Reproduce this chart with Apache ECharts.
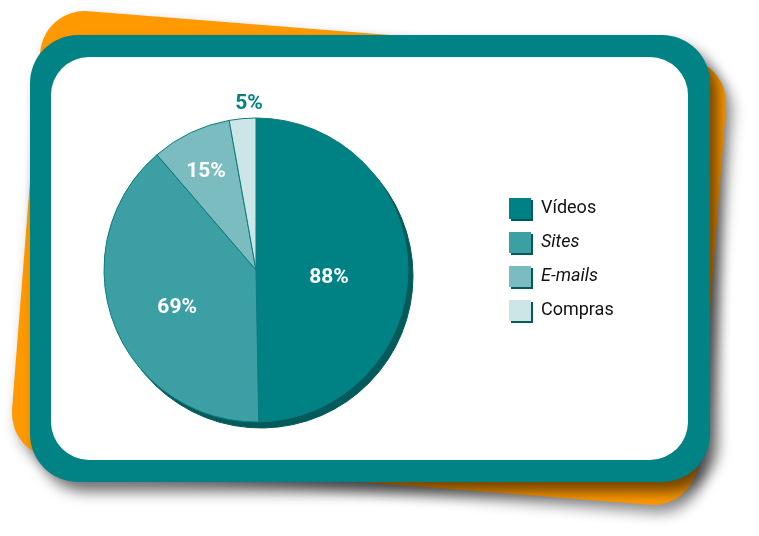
<!DOCTYPE html>
<html>
<head>
<meta charset="utf-8">
<script src="https://cdn.jsdelivr.net/npm/echarts@6/dist/echarts.min.js"></script>
<style>
html,body{margin:0;padding:0;background:#fff;}
#chart{width:759px;height:536px;}
</style>
</head>
<body>
<div id="chart"></div>
<script>
// ---- data ----
const categories = ['Vídeos', 'Sites', 'E-mails', 'Compras'];
const values = [88, 69, 15, 5];
const labelTexts = ['88%', '69%', '15%', '5%'];

// ---- styles ----
const sliceColors = ['#008285', '#3c9fa3', '#7bbcc1', '#cce5e7'];
const italicNames = ['Sites', 'E-mails'];
const labelOffsets = [[-6, 8], [-5, 10], [-16, -27], [0, -88]];
const labelColors = ['#ffffff', '#ffffff', '#ffffff', '#008285'];

const chart = echarts.init(document.getElementById('chart'), null, {renderer: 'canvas'});

const deg = Math.PI / 180;

const mainData = categories.map((c, i) => ({
  name: c,
  value: values[i],
  itemStyle: {color: sliceColors[i]},
  label: {
    formatter: labelTexts[i],
    offset: labelOffsets[i],
    color: labelColors[i]
  }
}));

const shadowData = categories.map((c, i) => ({
  name: c,
  value: values[i],
  itemStyle: {color: '#035a5b'}
}));

chart.setOption({
  animation: false,
  graphic: [
    {
      type: 'rect',
      x: 369, y: 258,
      rotation: -4.5 * deg,
      shape: {x: -344, y: -224, width: 688, height: 448, r: 45},
      style: {fill: '#ff9900', shadowBlur: 14, shadowColor: 'rgba(0,0,0,0.45)', shadowOffsetX: 6, shadowOffsetY: 8},
      z: -10, silent: true
    },
    {
      type: 'rect',
      shape: {x: 30, y: 35, width: 680, height: 447, r: 48},
      style: {fill: '#018285', shadowBlur: 14, shadowColor: 'rgba(0,0,0,0.55)', shadowOffsetX: 8, shadowOffsetY: 10},
      z: -9, silent: true
    },
    {
      type: 'rect',
      shape: {x: 51, y: 57, width: 637, height: 403, r: 38},
      style: {fill: '#ffffff'},
      z: -8, silent: true
    }
  ],
  legend: {
    orient: 'vertical',
    left: 509,
    top: 198,
    padding: 0,
    itemWidth: 22,
    itemHeight: 21,
    itemGap: 13,
    icon: 'rect',
    selectedMode: false,
    data: categories,
    itemStyle: {
      borderWidth: 0,
      shadowColor: '#035a5b',
      shadowBlur: 0,
      shadowOffsetX: 2,
      shadowOffsetY: 2
    },
    formatter: function (name) {
      return italicNames.indexOf(name) >= 0 ? '{i|' + name + '}' : '{n|' + name + '}';
    },
    textStyle: {
      fontFamily: 'Roboto',
      fontSize: 18,
      color: '#111111',
      padding: [0, 0, 0, 5],
      rich: {
        n: {fontFamily: 'Roboto', fontSize: 18, color: '#111111'},
        i: {fontFamily: 'Roboto', fontSize: 18, color: '#111111', fontStyle: 'italic'}
      }
    }
  },
  series: [
    {
      name: 'Uso',
      type: 'pie',
      center: [256, 270],
      radius: 152,
      startAngle: 90,
      clockwise: true,
      z: 3,
      emphasis: {disabled: true},
      itemStyle: {borderColor: '#0b7c7e', borderWidth: 1},
      label: {
        show: true,
        position: 'inside',
        fontFamily: 'Roboto',
        fontWeight: 'bold',
        fontSize: 21
      },
      labelLine: {show: false},
      data: mainData
    },
    {
      name: 'shadow',
      type: 'pie',
      center: [261, 276],
      radius: 152,
      startAngle: 90,
      clockwise: true,
      silent: true,
      z: 1,
      label: {show: false},
      labelLine: {show: false},
      itemStyle: {borderWidth: 1, borderColor: '#035a5b'},
      data: shadowData
    }
  ]
});
</script>
</body>
</html>
